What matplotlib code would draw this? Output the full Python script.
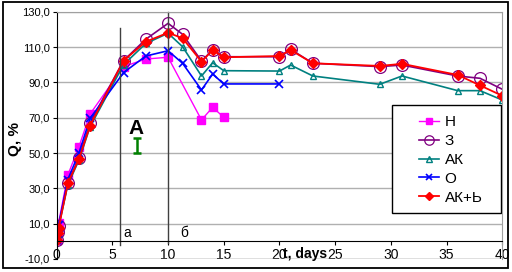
import matplotlib
matplotlib.use('Agg')
import matplotlib.pyplot as plt
from matplotlib.patches import Rectangle

plt.rcParams['font.family'] = ['Liberation Sans', 'DejaVu Sans']

# data
days_n = [0, 0.08, 0.17, 1, 2, 3, 6, 8, 10, 13, 14, 15]
q_n = [1.0, 6.0, 10.5, 37.5, 53.6, 72.1, 98.9, 103.2, 104.2, 68.7, 75.9, 70.2]

days_all = [0, 0.08, 0.17, 1, 2, 3, 6, 8, 10, 11.3, 13, 14, 15, 20, 21, 23, 29, 31, 36, 38, 40]
q_z = [0.5, 5.4, 8.7, 33.0, 47.3, 67.2, 102.3, 114.4, 123.4, 117.2, 102.1, 108.3, 104.5,
       104.5, 108.7, 100.8, 98.9, 99.8, 93.6, 92.3, 86.1]
q_ak = [0.5, 4.0, 8.0, 32.0, 46.0, 64.9, 100.0, 112.0, 117.8, 110.2, 93.6, 101.1, 96.6,
        96.4, 99.8, 93.6, 88.9, 93.6, 85.3, 85.3, 80.0]
q_akb = [0.5, 5.0, 7.5, 32.8, 46.6, 65.5, 102.3, 113.0, 118.1, 115.0, 101.7, 108.3, 104.2,
         104.9, 108.3, 100.8, 99.3, 100.5, 94.2, 88.3, 82.4]

days_o = [0, 0.08, 0.17, 1, 2, 3, 6, 8, 10, 11.3, 13, 14, 15, 20]
q_o = [1.0, 5.0, 9.0, 35.0, 50.0, 69.6, 95.5, 104.9, 107.9, 100.8, 85.7, 94.7, 89.1, 89.1]

yticks = [-10, 10, 30, 50, 70, 90, 110, 130]
xticks = [0, 5, 10, 15, 20, 25, 30, 35, 40]

fig = plt.figure(figsize=(5.12, 2.72), dpi=100)
ax = fig.add_axes([0.1107, 0.0478, 0.8703, 0.9092])

# outer chart frame
fig.patches.append(Rectangle((0.006, 0.015), 0.987, 0.976, transform=fig.transFigure,
                             fill=False, edgecolor='black', linewidth=1.3))

ax.plot(days_n, q_n, color='#ff00ff', lw=1.0, marker='s', ms=6, label='Н')
ax.plot(days_all, q_z, color='#800080', lw=1.2, marker='o', ms=8.5, mfc='none',
        mew=0.9, label='З')
ax.plot(days_all, q_ak, color='#008080', lw=1.2, marker='^', ms=5, mfc='none',
        mew=1.0, label='АК')
ax.plot(days_o, q_o, color='#0000ff', lw=1.2, marker='x', ms=6, mew=1.2, label='О')
ax.plot(days_all, q_akb, color='#ff0000', lw=1.3, marker='D', ms=5, label='АК+Ь')

# markers a / б
ax.plot([5.68, 5.68], [120.6, -2], color='#404040', lw=1.0, clip_on=False)
ax.plot([10, 10], [130, -1], color='#404040', lw=1.0, clip_on=False)
ax.text(6.0, 5, 'а', fontsize=10, ha='left', va='center')
ax.text(11.1, 5, 'б', fontsize=10, ha='left', va='center')
ax.text(7.1, 64, 'A', fontsize=15, fontweight='bold', ha='center', va='center')
ax.errorbar([7.2], [54.2], yerr=[4.2], color='#008000', lw=1.8, capsize=3, capthick=1.8)

ax.set_xlim(0, 40)
ax.set_ylim(-10, 130)
ax.set_yticks(yticks)
ax.set_yticklabels([('%.1f' % v).replace('.', ',') for v in yticks], fontsize=8)
ax.set_xticks(xticks)
ax.set_xticklabels([str(v) for v in xticks], fontsize=8)
ax.tick_params(axis='y', length=3, pad=2)
ax.tick_params(axis='x', length=3, pad=1.5, direction='out')
ax.grid(axis='y', color='#b0b0b0', lw=1.0)
ax.set_axisbelow(True)

ax.spines['bottom'].set_position(('data', 0))
ax.spines['bottom'].set_color('black')
ax.spines['left'].set_color('black')
ax.spines['top'].set_color('#a0a0a0')
ax.spines['right'].set_color('#a0a0a0')
ax.axhline(-10, color='#a0a0a0', lw=1.0)

ax.text(-3.7, 58, 'Q, %', rotation=90, fontsize=11, fontweight='bold',
        ha='center', va='center')
ax.text(22.3, -7.0, 't, days', fontsize=10, fontweight='bold', ha='center', va='center')

# legend: fixed frame like the reference, entries placed inside it
ax.add_patch(Rectangle((0.752, 0.186), 0.245, 0.437, transform=ax.transAxes,
                       facecolor='white', edgecolor='black', lw=1.0, zorder=4))
leg = ax.legend(loc='upper left', bbox_to_anchor=(0.79, 0.625), fontsize=11,
                frameon=False, handlelength=1.3, handletextpad=0.35,
                labelspacing=0.32, borderpad=0.2, markerscale=0.8)
leg.set_zorder(5)

fig.savefig('out.png', dpi=100)
